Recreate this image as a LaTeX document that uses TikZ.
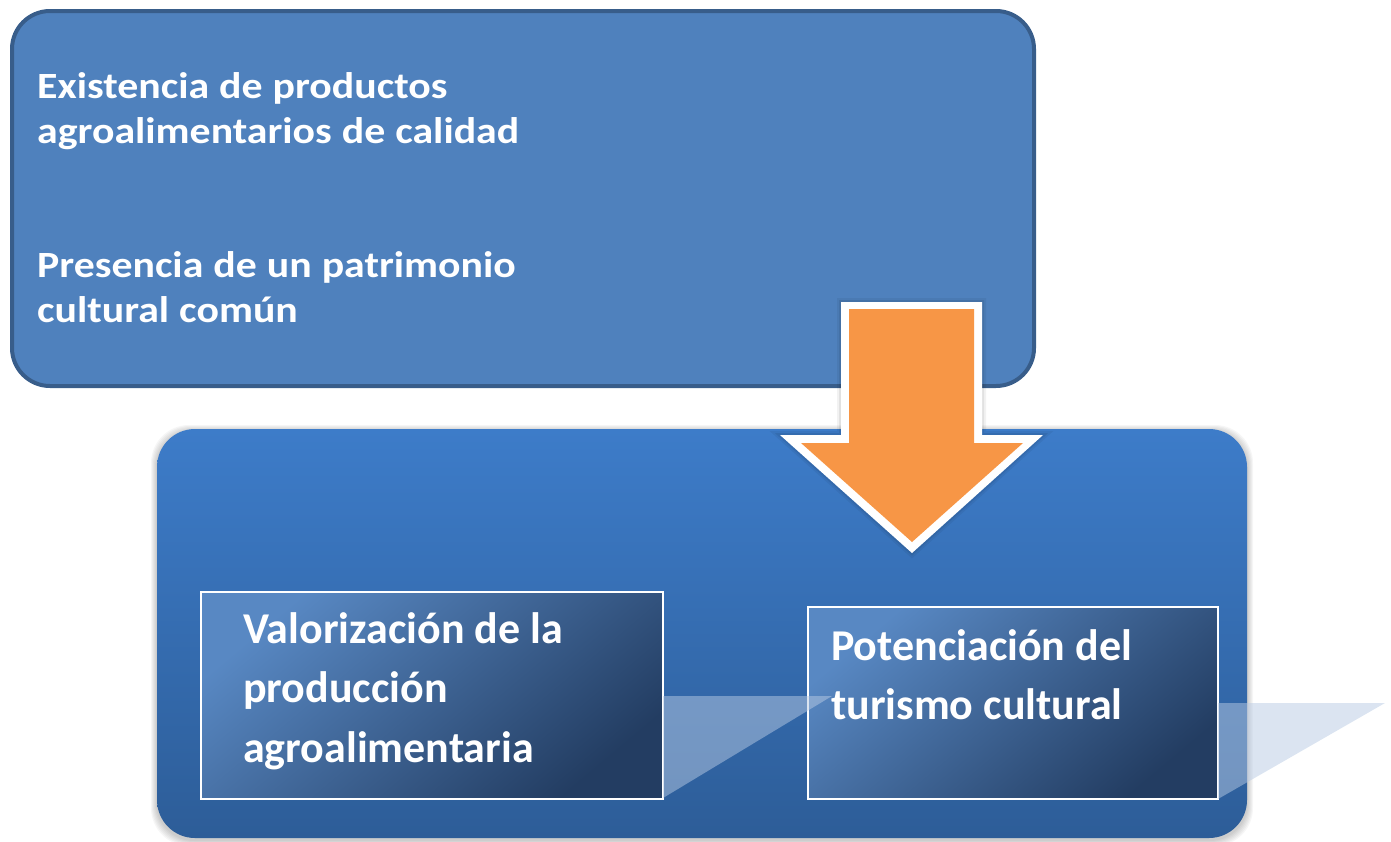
\documentclass[tikz,border=0pt]{standalone}
\usepackage{fontspec}
\setmainfont{Carlito}
\newfontfamily\topfont[FakeStretch=1.13]{Carlito}
\definecolor{topfill}{HTML}{4F81BD}
\definecolor{topline}{HTML}{385D8A}
\definecolor{bigtop}{HTML}{3D7CC9}
\definecolor{bigbot}{HTML}{2D5D98}
\definecolor{innerlight}{HTML}{5888C3}
\definecolor{innerdark}{HTML}{233D62}
\definecolor{arroworange}{HTML}{F79646}
\definecolor{trifill}{HTML}{B8CAE3}
\tikzset{
  topbox/.style={draw=topline, line width=4pt, fill=topfill, rounded corners=38pt, inner sep=0pt},
  bigbox/.style={shade, top color=bigtop, bottom color=bigbot, rounded corners=38pt, inner sep=0pt},
  innerbox/.style={draw=white, line width=2.5pt, shade, top color=innerlight, bottom color=innerdark, shading angle=40, inner sep=0pt},
  toptext/.style={text=white, anchor=base west, inner sep=0pt, align=left, text width=700pt, font=\topfont\bfseries\fontsize{37}{45}\selectfont, execute at begin node={\spaceskip=0.27em\relax}},
  innertext/.style={text=white, anchor=base west, inner sep=0pt, align=left, text width=380pt, font=\bfseries\fontsize{44}{59.5}\selectfont, execute at begin node={\spaceskip=0.23em\relax}},
  tri/.style={fill=trifill, fill opacity=0.5}
}
\begin{document}
\begin{tikzpicture}[x=1pt,y=-1pt]
\useasboundingbox (0,0) rectangle (1391,841);
% upper box
\node[topbox, minimum width=1022pt, minimum height=375pt] (top) at (523,198.5) {};
\node[toptext] (t1) at (37,98) {Existencia de productos\\agroalimentarios de calidad};
\node[toptext] (t2) at (37,277) {Presencia de un patrimonio\\cultural común};
% shadow of lower box
\foreach \i in {1,...,6}
  \fill[black, opacity=0.035, rounded corners=38pt] ({157-\i},{431-\i}) rectangle ({1247+\i},{840+\i});
% lower box
\node[bigbox, minimum width=1090pt, minimum height=409pt] (big) at (702,633.5) {};
% inner boxes
\node[innerbox, minimum width=462pt, minimum height=207pt] (left) at (432,695.5) {};
\node[innerbox, minimum width=410pt, minimum height=192pt] (right) at (1013,703) {};
% translucent triangles
\fill[tri] (663,696) -- (832,696) -- (663,798) -- cycle;
\fill[tri] (1218,703) -- (1385,703) -- (1218,799) -- cycle;
\node[innertext] (l1) at (243,643) {Valorización de la\\producción\\agroalimentaria};
\node[innertext] (r1) at (831,660) {Potenciación del\\turismo cultural};
% block arrow
\foreach \w/\o in {8/0.05, 4/0.07}
  \draw[black, opacity=\o, line width=\w pt, line join=miter]
    (841,302) -- (982,302) -- (982,435) -- (1043,435) -- (912,553) -- (780,435) -- (841,435) -- cycle;
\fill[white] (841,302) -- (982,302) -- (982,435) -- (1043,435) -- (912,553) -- (780,435) -- (841,435) -- cycle;
\fill[arroworange] (849,309) -- (974,309) -- (974,443) -- (1023,443) -- (912,542) -- (801,443) -- (849,443) -- cycle;
\end{tikzpicture}
\end{document}
